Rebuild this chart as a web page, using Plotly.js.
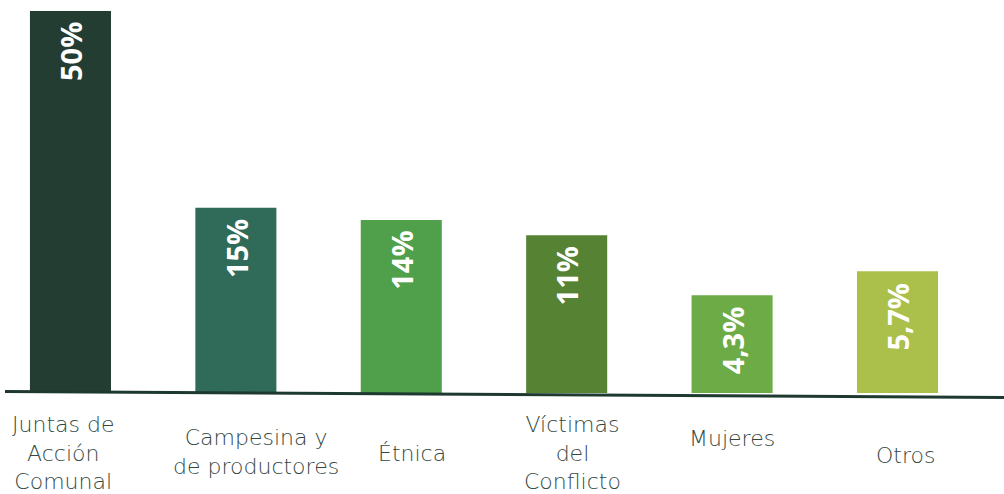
<!DOCTYPE html>
<html>
<head>
<meta charset="utf-8">
<script src="https://cdn.plot.ly/plotly-3.0.1.min.js"></script>
<style>html,body{margin:0;padding:0;background:#fff;}#chart{width:1004px;height:494px;}</style>
</head>
<body>
<div id="chart"></div>
<script>
// Categories (label lines joined with <br>)
const categories = ["Juntas de<br>Acción<br>Comunal", "Campesina y<br>de productores", "Étnica", "Víctimas<br>del<br>Conflicto", "Mujeres", "Otros"];
// Percentages shown on each bar
const valueLabels = ["50%", "15%", "14%", "11%", "4,3%", "5,7%"];
// Drawn bar heights (relative units, tallest = 100)
const barHeights = [100, 48.5, 45.3, 41.3, 25.6, 31.9];
const barColors = ["#233d33", "#2f6b58", "#4f9f4b", "#558233", "#6dab47", "#abbf4b"];

// layout-only positioning of the category labels
const labelXShift = [-7, 20, 11, 6, 0, 8];
const labelYPix = [453, 452, 454, 453, 438, 455];

const idx = categories.map((_, i) => i);
const PLOT_TOP = 11, PLOT_BOTTOM = 393;

const data = [{
  type: "bar",
  x: idx,
  y: barHeights,
  width: 0.49,
  marker: {color: barColors, line: {width: 0}},
  hoverinfo: "skip"
}];

const annotations = [];
idx.forEach(i => {
  annotations.push({
    x: i, y: barHeights[i], xref: "x", yref: "y",
    text: valueLabels[i], showarrow: false,
    textangle: -90, xanchor: "center", yanchor: "top", yshift: -9,
    font: {family: "Open Sans, sans-serif", size: 29, color: "#ffffff", weight: 700}
  });
  annotations.push({
    x: i, xref: "x", yref: "paper",
    y: (PLOT_BOTTOM - labelYPix[i]) / (PLOT_BOTTOM - PLOT_TOP),
    xshift: labelXShift[i],
    text: categories[i], showarrow: false,
    xanchor: "center", yanchor: "middle", align: "center",
    font: {family: "DejaVu Sans, sans-serif", size: 22, color: "#33483f", weight: 200}
  });
});

const layout = {
  width: 1004, height: 494,
  margin: {l: 0, r: 0, t: PLOT_TOP, b: 494 - PLOT_BOTTOM, pad: 0},
  paper_bgcolor: "#ffffff", plot_bgcolor: "#ffffff",
  showlegend: false,
  xaxis: {type: "linear", range: [-0.426, 5.644], showgrid: false, zeroline: false, showticklabels: false, showline: false, fixedrange: true},
  yaxis: {range: [0, 100], showgrid: false, zeroline: false, showticklabels: false, showline: false, fixedrange: true},
  shapes: [{
    type: "line", xref: "paper", yref: "paper",
    x0: 0.005, x1: 1.0,
    y0: (PLOT_BOTTOM - 391.5) / (PLOT_BOTTOM - PLOT_TOP),
    y1: (PLOT_BOTTOM - 397.5) / (PLOT_BOTTOM - PLOT_TOP),
    line: {color: "#1e3a30", width: 3}, layer: "above"
  }],
  annotations: annotations
};

Plotly.newPlot("chart", data, layout, {displayModeBar: false, staticPlot: true});
</script>
</body>
</html>
